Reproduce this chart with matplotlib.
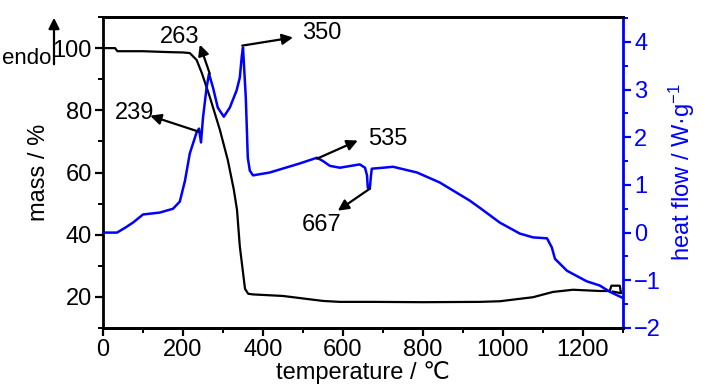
import matplotlib
matplotlib.use("Agg")
import matplotlib.pyplot as plt
from matplotlib.ticker import MultipleLocator
from matplotlib.patches import FancyArrowPatch

# ---- data ----
mass_T = [0, 30, 36, 100, 167, 200, 217, 234, 247, 267, 292, 312, 327, 335, 342, 355, 363, 375,
          450, 550, 592, 675, 800, 942, 992, 1075, 1125, 1175, 1242, 1267, 1271, 1292, 1295, 1275]
mass = [100, 100, 99, 99, 98.7, 98.6, 98.4, 96.2, 92.0, 84.3, 73.8, 64.0, 54.5, 48.0, 36.3, 22.6,
        21.0, 20.8, 20.3, 18.7, 18.4, 18.4, 18.3, 18.4, 18.6, 19.9, 21.6, 22.3, 21.9, 21.9, 23.6,
        23.6, 21.2, 21.7]

hf_T = [0, 35, 55, 75, 100, 142, 175, 192, 205, 217, 234, 240, 245, 250, 259, 265, 275, 287,
        302, 317, 334, 342, 347, 350, 357, 362, 367, 375, 417, 492, 535, 550, 567, 592, 642, 655,
        660, 662, 667, 670, 672, 700, 725, 785, 842, 917, 942, 992, 1042, 1075, 1110, 1122, 1130,
        1160, 1209, 1242, 1267, 1297]
hf = [0.0, 0.0, 0.1, 0.21, 0.38, 0.42, 0.5, 0.65, 1.09, 1.66, 2.1, 2.18, 1.89, 2.41, 3.04, 3.33,
      3.04, 2.62, 2.43, 2.62, 2.98, 3.25, 3.7, 3.88, 2.83, 1.57, 1.3, 1.2, 1.26, 1.45, 1.57, 1.5,
      1.40, 1.36, 1.43, 1.36, 1.2, 0.94, 0.92, 1.2, 1.34, 1.36, 1.38, 1.26, 1.05, 0.67, 0.52,
      0.21, -0.02, -0.10, -0.12, -0.31, -0.55, -0.8, -1.02, -1.11, -1.24, -1.36]

peak_labels = ["239", "263", "350", "535", "667"]
arrow_tail = [(238, 2.12), (267, 3.33), (348, 3.92), (535, 1.55), (667, 0.92)]
arrow_head = [(118, 2.45), (242, 3.94), (475, 4.09), (637, 1.93), (587, 0.46)]
label_pos = [(30, 2.5), (142, 4.1), (497, 4.19), (662, 1.97), (497, 0.15)]

FONT = ['Liberation Sans', 'DejaVu Sans']
plt.rcParams['font.family'] = FONT
plt.rcParams['mathtext.fontset'] = 'custom'
plt.rcParams['mathtext.rm'] = 'Liberation Sans'
plt.rcParams['mathtext.it'] = 'Liberation Sans'
FS = 17
BLUE = '#0000ff'

fig = plt.figure(figsize=(7.27, 3.89), dpi=100)
ax = fig.add_axes([103/727, 1-328/389, 520/727, 311/389])
ax2 = ax.twinx()

ax.plot(mass_T, mass, color='black', lw=1.6, zorder=3)
ax2.plot(hf_T, hf, color=BLUE, lw=1.8)

ax.set_xlim(0, 1300)
ax.set_ylim(10, 110)
ax2.set_ylim(-2, 4.52)

ax.xaxis.set_major_locator(MultipleLocator(200))
ax.xaxis.set_minor_locator(MultipleLocator(100))
ax.yaxis.set_minor_locator(MultipleLocator(10))
ax2.yaxis.set_major_locator(MultipleLocator(1))
ax2.yaxis.set_minor_locator(MultipleLocator(0.5))
ax.set_yticks([20, 40, 60, 80, 100])

for a in (ax, ax2):
    for s in a.spines.values():
        s.set_linewidth(2)
ax2.spines['right'].set_color(BLUE)
ax2.spines['left'].set_visible(False)
ax.spines['right'].set_visible(False)

ax.tick_params(which='major', direction='out', length=6, width=1.6, labelsize=FS, pad=2)
ax.tick_params(which='minor', direction='out', length=3.5, width=1.4)
ax2.tick_params(which='major', direction='out', length=6, width=1.6, labelsize=FS,
                colors=BLUE, pad=2)
ax2.tick_params(which='minor', direction='out', length=3.5, width=1.4, colors=BLUE)

ax.set_xlabel('temperature / ℃', fontsize=FS, labelpad=0)
ax.set_ylabel('mass / %', fontsize=FS, labelpad=2)
ax2.set_ylabel('heat flow / W·g$^{\\mathregular{-1}}$', fontsize=FS, color=BLUE, labelpad=4)

for lab, tail, head, pos in zip(peak_labels, arrow_tail, arrow_head, label_pos):
    ax2.annotate('', xy=head, xytext=tail,
                 arrowprops=dict(arrowstyle='-|>', color='black', lw=1.6, mutation_scale=16,
                                 shrinkA=0, shrinkB=0))
    ax2.text(pos[0], pos[1], lab, fontsize=FS, ha='left', va='center')

fig.text(2/727, 1-58/389, 'endo', fontsize=16, ha='left', va='center')
fig.patches.append(FancyArrowPatch(
    (54/727, 1-67/389), (54/727, 1-15/389), transform=fig.transFigure,
    arrowstyle='-|>', mutation_scale=16, color='black', lw=1.6))

fig.savefig('out.png', dpi=100)
